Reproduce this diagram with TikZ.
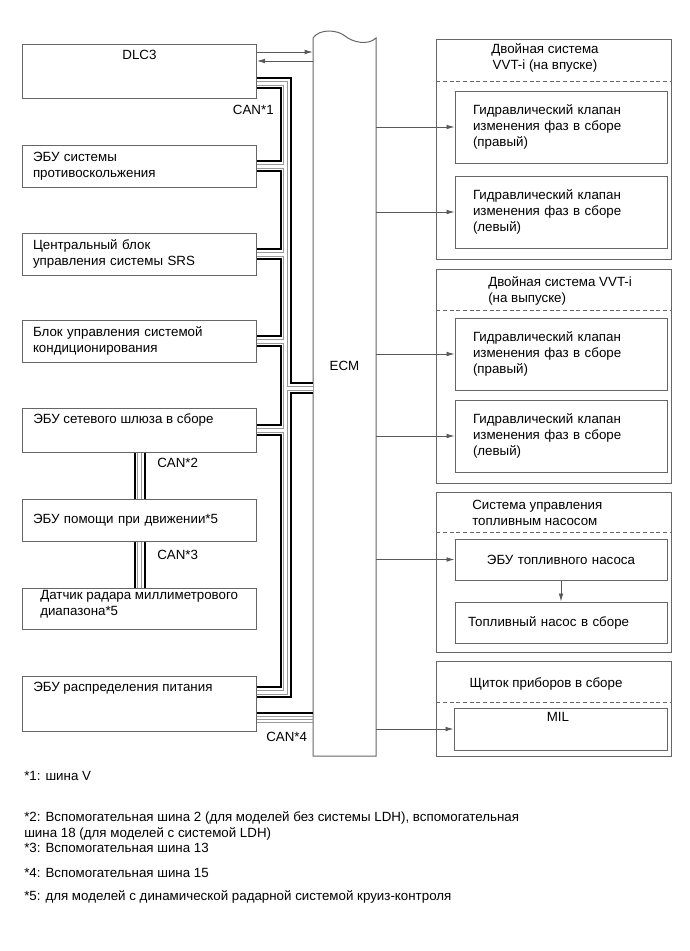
\documentclass[tikz,border=0pt]{standalone}
\usepackage{fontspec}
\setmainfont{Liberation Sans}
\usepackage{tikz}
\usetikzlibrary{arrows.meta, positioning, calc}

\begin{document}
\begin{tikzpicture}[
  x=0.75pt, y=-0.75pt,
  font=\fontsize{10}{12}\selectfont,
  lbox/.style    = {draw=black!60, line width=0.75pt, minimum width=175.5pt,
                    minimum height=31.5pt, text width=159.75pt,
                    inner xsep=7.875pt, align=left},
  gbox/.style    = {draw=black!60, line width=0.75pt, minimum width=175.9pt},
  rbox/.style    = {draw=black!60, line width=0.75pt, minimum width=159pt,
                    minimum height=54pt, text width=132pt,
                    inner xsep=13.5pt, align=left},
  txt/.style     = {inner sep=0pt, align=left},
  arr/.style     = {-{Latex[length=6pt,width=3.5pt]}, draw=black!65,
                    line width=0.6pt},
  divider/.style = {draw=black!60, line width=0.6pt,
                    dash pattern=on 3pt off 2pt},
]
\useasboundingbox (0,0) rectangle (690,951);

%% -- left column: control units on the CAN bus --
\node[lbox, minimum height=40.5pt]  (dlc) at (139.5,71)    {};
\node[txt] (dlct) at (139.5,55) {DLC3};
\node[lbox] (abs) at (139.5,166) {ЭБУ системы\\противоскольжения};
\node[lbox] (srs) at (139.5,254) {Центральный блок\\управления системы SRS};
\node[lbox] (ac)  at (139.5,341) {Блок управления системой\\кондиционирования};
\node[lbox, minimum height=33pt]    (gw)  at (139.5,430)   {};
\node[txt, anchor=west] (gwt) at (33,420) {ЭБУ сетевого шлюза в сборе};
\node[lbox] (das) at (139.5,520) {ЭБУ помощи при движении*5};
\node[lbox, minimum height=30.75pt] (mmw) at (139.5,608.5) {};
\node[txt, anchor=west] (mmwt) at (40,604.5)
  {Датчик радара миллиметрового\\диапазона*5};
\node[lbox, minimum height=41.25pt] (pdu) at (139.5,703.5) {};
\node[txt, anchor=west] (pdut) at (33,688) {ЭБУ распределения питания};

%% -- ECM --
\node[minimum width=47.25pt, minimum height=538.5pt, inner sep=0pt]
  (ecm) at (344.5,397) {};
\draw[draw=black!60, line width=0.75pt]
  (313,38) .. controls (320,28) and (338,30) .. (345,36)
           .. controls (352,42) and (368,46) .. (376,38)
  -- (376,756) -- (313,756) -- cycle;
\node[txt] (ecmt) at (344.5,366) {ECM};

%% -- right column: actuator groups --
\node[gbox, minimum height=165pt]   (g1) at (554.25,149)   {};
\node[gbox, minimum height=160.5pt] (g2) at (554.25,376)   {};
\node[gbox, minimum height=120pt]   (g3) at (554.25,572)   {};
\node[gbox, minimum height=71.25pt] (g4) at (554.25,708.5) {};
\draw[divider] (g1.west |- 0,81)  -- (g1.east |- 0,81);
\draw[divider] (g2.west |- 0,310) -- (g2.east |- 0,310);
\draw[divider] (g3.west |- 0,532) -- (g3.east |- 0,532);
\draw[divider] (g4.west |- 0,702) -- (g4.east |- 0,702);

\node[txt, align=center] (g1t) at (545,58)
  {Двойная система\\VVT-i (на впуске)};
\node[txt, anchor=west] (g2t) at (488,291)
  {Двойная система VVT-i\\(на выпуске)};
\node[txt, anchor=west] (g3t) at (472,513)
  {Система управления\\топливным насосом};
\node[txt] (g4t) at (546,684) {Щиток приборов в сборе};

\node[rbox] (g1a) at (561,127)
  {Гидравлический клапан\\изменения фаз в сборе\\(правый)};
\node[rbox] (g1b) at (561,212)
  {Гидравлический клапан\\изменения фаз в сборе\\(левый)};
\node[rbox] (g2a) at (561,354)
  {Гидравлический клапан\\изменения фаз в сборе\\(правый)};
\node[rbox] (g2b) at (561,436)
  {Гидравлический клапан\\изменения фаз в сборе\\(левый)};
\node[rbox, minimum height=30.75pt, align=center] (g3a) at (561,559.5)
  {ЭБУ топливного насоса};
\node[rbox, minimum height=30.75pt, inner xsep=9.75pt, text width=139.5pt]
  (g3b) at (561,622.5) {Топливный насос в сборе};
\node[rbox, minimum width=159.75pt, minimum height=31.5pt] (mil)
  at (560.5,729) {};
\node[txt] (milt) at (558,717) {MIL};

%% -- CAN bus: black edges, two grey cores --
\coordinate (bus) at (285.7,0);
\coordinate (b0)  at ($(dlc.east)+(0,12)$);
\coordinate (b9)  at ($(pdu.east)+(0,-11.5)$);
\coordinate (ej)  at (ecm.west |- 0,388);
\foreach \w/\c in {9pt/black, 6pt/white, 3.75pt/black!40, 2.25pt/white}{
  \draw[line width=\w, \c] (b0) -| (b9 -| bus) -- (b9);
  \foreach \n in {abs,srs,ac,gw}
    \draw[line width=\w, \c] (\n.east) -- (\n.east -| bus);
  \draw[line width=\w, \c] (bus |- ej) -- (ej);
  \draw[line width=\w, \c] (gw.south) -- (das.north);
  \draw[line width=\w, \c] (das.south) -- (mmw.north);
}
\coordinate (c4) at ($(pdu.east)+(0,9)$);
\draw[line width=1.5pt] (c4) -- (c4 -| ecm.west);
\foreach \d in {3.5,6.5,9.5}
  \draw[black!40, line width=0.6pt] ($(c4)+(0,\d)$) -- ($(c4 -| ecm.west)+(0,\d)$);

\node[txt, anchor=east] (can1) at (274,110) {CAN*1};
\node[txt, anchor=west] (can2) at (157,463) {CAN*2};
\node[txt, anchor=west] (can3) at (157,555) {CAN*3};
\node[txt, anchor=west] (can4) at (266,737) {CAN*4};

%% -- signal lines --
\draw[arr] (dlc.east |- 0,52) -- (ecm.west |- 0,52);
\draw[arr] (ecm.west |- 0,61) -- (dlc.east |- 0,61);
\foreach \n in {g1a,g1b,g2a,g2b,g3a,mil}
  \draw[arr] (ecm.east |- \n.west) -- (\n.west);
\draw[arr] (g3a.south) -- (g3b.north);

%% -- footnotes --
\node[txt, anchor=north west] (fn1) at (24,771.3) {*1: шина V};
\node[txt, anchor=north west] (fn2) at (24,811.3)
  {*2: Вспомогательная шина 2 (для моделей без системы LDH), вспомогательная\\
   шина 18 (для моделей с системой LDH)};
\node[txt, anchor=north west] (fn3) at (24,843) {*3: Вспомогательная шина 13};
\node[txt, anchor=north west] (fn4) at (24,868) {*4: Вспомогательная шина 15};
\node[txt, anchor=north west] (fn5) at (24,890)
  {*5: для моделей с динамической радарной системой круиз-контроля};

\end{tikzpicture}
\end{document}
